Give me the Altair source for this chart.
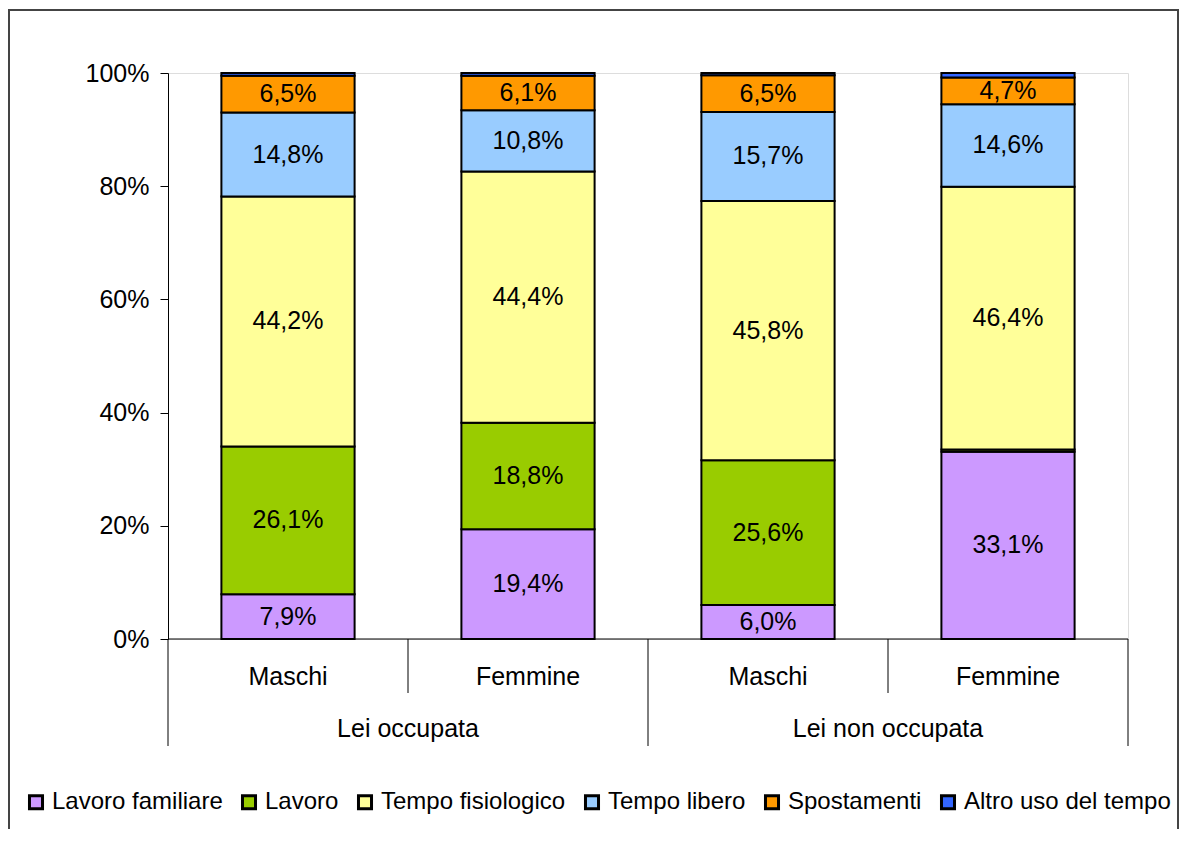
import altair as alt
import pandas as pd

groups = ["Lei occupata", "Lei occupata", "Lei non occupata", "Lei non occupata"]
sexes = ["Maschi", "Femmine", "Maschi", "Femmine"]
series = ["Lavoro familiare", "Lavoro", "Tempo fisiologico", "Tempo libero", "Spostamenti", "Altro uso del tempo"]
colors = ["#CC99FF", "#99CC00", "#FFFF99", "#99CCFF", "#FF9900", "#3366FF"]

lavoro_familiare = [7.9, 19.4, 6.0, 33.1]
lavoro = [26.1, 18.8, 25.6, 0.4]
tempo_fisiologico = [44.2, 44.4, 45.8, 46.4]
tempo_libero = [14.8, 10.8, 15.7, 14.6]
spostamenti = [6.5, 6.1, 6.5, 4.7]
altro = [0.5, 0.5, 0.4, 0.8]

values = [lavoro_familiare, lavoro, tempo_fisiologico, tempo_libero, spostamenti, altro]

rows = []
for i in range(4):
    cum = 0.0
    for s, (name, vals) in enumerate(zip(series, values)):
        v = vals[i]
        rows.append({
            "i": i, "sex": sexes[i], "group": groups[i], "serie": name, "order": s,
            "v": v, "y0": cum, "y1": cum + v, "mid": cum + v / 2,
            "label": (f"{v:.1f}".replace(".", ",") + "%") if v >= 2 else "",
        })
        cum += v
df = pd.DataFrame(rows)

W, H = 960, 566
FONT = "Liberation Sans"
FS = 25

xs = alt.Scale(domain=[0, 4], nice=False, zero=False)
ys = alt.Scale(domain=[0, 100], nice=False)

legend = alt.Legend(
    orient="none", legendX=-144, legendY=717, direction="horizontal",
    title=None, symbolType="square", symbolSize=170,
    symbolStrokeWidth=3, symbolStrokeColor="black",
    labelFont=FONT, labelFontSize=24, labelColor="black",
    labelOffset=4, columnPadding=13, labelLimit=400)

base = alt.Chart(df).transform_calculate(
    xa="datum.i + 0.5 - 0.2775", xb="datum.i + 0.5 + 0.2775", xc="datum.i + 0.5"
)

bars = base.mark_bar(strokeWidth=2).encode(
    x=alt.X("xa:Q", scale=xs, axis=None),
    x2="xb:Q",
    y=alt.Y("y0:Q", scale=ys, axis=alt.Axis(
        values=[0, 20, 40, 60, 80, 100], labelExpr="datum.value + '%'", grid=False,
        domainColor="black", domainWidth=1, tickColor="black", tickSize=8,
        labelFont=FONT, labelFontSize=FS, labelColor="black", labelPadding=11, title=None)),
    y2="y1:Q",
    color=alt.Color("serie:N", scale=alt.Scale(domain=series, range=colors), legend=legend),
    stroke=alt.Stroke("serie:N", scale=alt.Scale(domain=series, range=["black"] * 6), legend=legend),
    order=alt.Order("order:Q"),
)

texts = base.mark_text(font=FONT, fontSize=FS, color="black", baseline="middle").encode(
    x=alt.X("xc:Q", scale=xs),
    y=alt.Y("mid:Q", scale=ys),
    text="label:N",
)

cat_df = pd.DataFrame({"pos": [0.5, 1.5, 2.5, 3.5], "sex": sexes})
cat_text = alt.Chart(cat_df).mark_text(font=FONT, fontSize=FS, color="black", baseline="middle").encode(
    x=alt.X("pos:Q", scale=xs), y=alt.value(H + 38), text="sex:N")

grp_df = pd.DataFrame({"pos": [1.0, 3.0], "group": ["Lei occupata", "Lei non occupata"]})
grp_text = alt.Chart(grp_df).mark_text(font=FONT, fontSize=FS, color="black", baseline="middle").encode(
    x=alt.X("pos:Q", scale=xs), y=alt.value(H + 90), text="group:N")

sep_df = pd.DataFrame({"b": [0, 1, 2, 3, 4], "long": [1, 0, 1, 0, 1]})
sep_short = alt.Chart(sep_df).transform_filter("datum.long == 0").mark_rule(color="black", strokeWidth=1).encode(
    x=alt.X("b:Q", scale=xs), y=alt.value(H), y2=alt.value(H + 54))
sep_long = alt.Chart(sep_df).transform_filter("datum.long == 1").mark_rule(color="black", strokeWidth=1).encode(
    x=alt.X("b:Q", scale=xs), y=alt.value(H), y2=alt.value(H + 107))

xaxis = alt.Chart(pd.DataFrame({"a": [0], "b": [4]})).mark_rule(color="black", strokeWidth=1).encode(
    x=alt.X("a:Q", scale=xs), x2="b:Q", y=alt.value(H))

frame = alt.Chart(pd.DataFrame({"a": [0]})).mark_rect(
    fill=None, stroke="#444444", strokeWidth=2).encode(
    x=alt.value(-159), x2=alt.value(W + 50), y=alt.value(-63), y2=alt.value(H + 250))

chart = alt.layer(frame, bars, texts, xaxis, sep_short, sep_long, cat_text, grp_text).properties(
    width=W, height=H,
    autosize=alt.AutoSizeParams(type="none"),
    padding={"left": 160, "top": 65, "right": 51, "bottom": 190},
).configure_view(stroke=None).configure(background="white")

chart.save("out.html", embed_options={"renderer": "svg", "actions": False})
